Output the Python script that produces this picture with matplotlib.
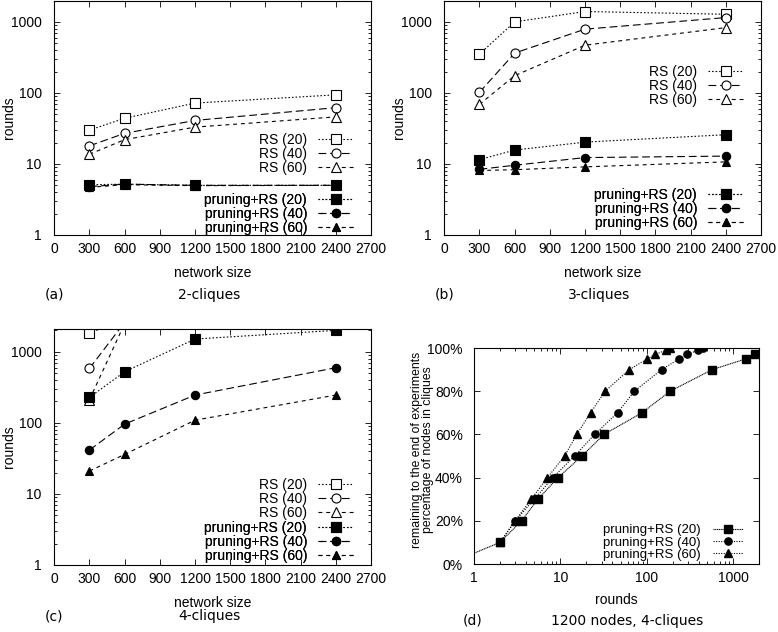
import matplotlib
matplotlib.use("Agg")
import matplotlib.pyplot as plt
from matplotlib.ticker import FuncFormatter, NullFormatter, LogLocator

plt.rcParams["font.family"] = "Liberation Sans"
plt.rcParams["font.size"] = 10

# network sizes used in panels (a)-(c)
sizes = [300, 600, 1200, 2400]

# (a) 2-cliques
a_rs20 = [30, 44, 72, 94]
a_rs40 = [18, 27, 41, 62]
a_rs60 = [13.7, 22, 33, 46]
a_pr20 = [5.1, 5.2, 5.0, 5.0]
a_pr40 = [4.8, 5.2, 5.0, 5.0]
a_pr60 = [4.7, 5.1, 4.95, 5.0]

# (b) 3-cliques
b_rs20 = [352, 1000, 1400, 1280]
b_rs40 = [102, 364, 790, 1150]
b_rs60 = [69, 175, 470, 830]
b_pr20 = [11.5, 15.7, 20.3, 25.8]
b_pr40 = [8.4, 9.6, 12.3, 12.9]
b_pr60 = [8.1, 8.3, 9.1, 10.7]

# (c) 4-cliques, RS only measured for the two smallest sizes (goes off the chart)
c_rs_sizes = [300, 600]
c_rs20 = [1860, 2700]
c_rs40 = [583, 2600]
c_rs60 = [212, 2500]
c_pr20 = [228, 524, 1510, 2000]
c_pr40 = [41.5, 96, 246, 596]
c_pr60 = [21, 36, 109, 246]

# (d) 1200 nodes, 4-cliques: rounds needed vs percentage of nodes in cliques
d_rounds20 = [1, 2, 3.55, 5.5, 9.4, 17.8, 32, 88, 187, 574, 1420, 1800]
d_pct20 = [5, 10, 20, 30, 40, 50, 60, 70, 80, 90, 95, 97]
d_rounds40 = [2, 3, 5.0, 8.2, 14.6, 25, 46, 72, 149, 238, 297, 393, 447]
d_pct40 = [10, 20, 30, 40, 50, 60, 70, 80, 90, 95, 97, 99, 100]
d_rounds60 = [2, 3, 4.6, 7.1, 11.2, 15.5, 22.4, 33, 63, 102, 125, 167, 185]
d_pct60 = [10, 20, 30, 40, 50, 60, 70, 80, 90, 95, 97, 99, 100]

line_styles = {20: (0, (1.4, 1.8)), 40: (0, (7, 3.5)), 60: (0, (3.5, 3.5))}
markers = {20: "s", 40: "o", 60: "^"}
marker_sizes = {20: 7, 40: 6.5, 60: 6.5}


def style_size_axis(ax, top):
    ax.set_yscale("log")
    ax.set_xlim(0, 2700)
    ax.set_ylim(1, top)
    ax.set_xticks(range(0, 2701, 300))
    ax.yaxis.set_major_formatter(FuncFormatter(lambda v, p: f"{v:g}"))
    ax.yaxis.set_minor_formatter(NullFormatter())
    ax.tick_params(which="both", direction="in", top=True, right=True, width=0.6)
    ax.tick_params(which="major", length=4.5)
    ax.tick_params(which="minor", length=2.5)
    ax.tick_params(axis="y", pad=9)
    ax.tick_params(axis="x", pad=5)
    ax.set_xlabel("network size", labelpad=7)
    ax.set_ylabel("rounds")
    ax.yaxis.set_label_coords(-0.1225, 0.5)
    for spine in ax.spines.values():
        spine.set_linewidth(0.8)


def add_key(ax, handles, anchor):
    leg = ax.legend(
        handles=handles,
        loc="center right",
        bbox_to_anchor=anchor,
        frameon=False,
        markerfirst=False,
        handlelength=2.5,
        handletextpad=0.8,
        labelspacing=0.0,
        borderpad=0,
        borderaxespad=0,
        fontsize=10,
    )
    ax.add_artist(leg)


def plot_panel(ax, rs_x, rs, pr, top, rs_anchor, pr_anchor):
    rs_handles = []
    pr_handles = []
    for group, vals in zip([20, 40, 60], rs):
        (h,) = ax.plot(
            rs_x, vals, color="black", lw=0.8, ls=line_styles[group],
            marker=markers[group], ms=marker_sizes[group], mfc="white",
            mec="black", mew=0.8, label=f"RS ({group})",
        )
        rs_handles.append(h)
    for group, vals in zip([20, 40, 60], pr):
        (h,) = ax.plot(
            sizes, vals, color="black", lw=0.8, ls=line_styles[group],
            marker=markers[group], ms=marker_sizes[group] - 0.5, mfc="black",
            mec="black", mew=0.8, label=f"pruning+RS ({group})",
        )
        pr_handles.append(h)
    style_size_axis(ax, top)
    add_key(ax, rs_handles, rs_anchor)
    add_key(ax, pr_handles, pr_anchor)


fig = plt.figure(figsize=(7.78, 6.32), dpi=100)
W, H = 778, 632


def px_axes(left, top, right, bottom):
    return fig.add_axes([left / W, 1 - bottom / H, (right - left) / W, (bottom - top) / H])


ax_a = px_axes(54.3, 0.5, 371, 235)
ax_b = px_axes(444.3, 0.5, 761, 235)
ax_c = px_axes(54.3, 329.3, 371, 565)
ax_d = px_axes(474, 348, 759, 564)

plot_panel(ax_a, sizes, [a_rs20, a_rs40, a_rs60], [a_pr20, a_pr40, a_pr60],
           2000, (0.943, 0.345), (0.943, 0.089))
plot_panel(ax_b, sizes, [b_rs20, b_rs40, b_rs60], [b_pr20, b_pr40, b_pr60],
           2000, (0.943, 0.636), (0.943, 0.11))
plot_panel(ax_c, c_rs_sizes, [c_rs20, c_rs40, c_rs60], [c_pr20, c_pr40, c_pr60],
           2070, (0.943, 0.28), (0.943, 0.097))

# panel (d)
d_styles = {20: (0, (1, 0.6)), 40: (0, (1, 1.3)), 60: (0, (1, 1.3))}
d_sizes = {20: 6, 40: 5.2, 60: 5.5}
d_handles = []
for group, xs, ys in [(20, d_rounds20, d_pct20), (40, d_rounds40, d_pct40),
                      (60, d_rounds60, d_pct60)]:
    (h,) = ax_d.plot(
        xs, ys, color="black", lw=0.8, ls=d_styles[group], marker=markers[group],
        ms=d_sizes[group], mfc="black", mec="black",
        markevery=slice(1, None) if group == 20 else None,
        label=f"pruning+RS ({group})",
    )
    d_handles.append(h)
ax_d.set_xscale("log")
ax_d.set_xlim(1, 2000)
ax_d.set_ylim(0, 100)
ax_d.set_yticks(range(0, 101, 20))
ax_d.yaxis.set_major_formatter(FuncFormatter(lambda v, p: f"{v:.0f}%"))
ax_d.xaxis.set_major_formatter(FuncFormatter(lambda v, p: f"{v:g}"))
ax_d.xaxis.set_minor_locator(LogLocator(subs=range(2, 10)))
ax_d.xaxis.set_minor_formatter(NullFormatter())
ax_d.tick_params(which="both", direction="in", top=True, right=True, width=0.6)
ax_d.tick_params(which="major", length=4.5)
ax_d.tick_params(which="minor", length=2.5)
ax_d.tick_params(axis="y", pad=8)
ax_d.tick_params(axis="x", pad=5)
for spine in ax_d.spines.values():
    spine.set_linewidth(0.8)
ax_d.set_xlabel("rounds", labelpad=6)
ax_d.set_ylabel("remaining to the end of experiments\npercentage of nodes in cliques",
                fontsize=8.8, linespacing=0.92)
ax_d.yaxis.set_label_coords(-0.140, 0.528)
ax_d.legend(handles=d_handles, loc="center right", bbox_to_anchor=(0.944, 0.1),
            frameon=False, markerfirst=False, handlelength=2.3, handletextpad=0.9,
            labelspacing=0.0, borderpad=0, borderaxespad=0, fontsize=9.5)

# captions
cap = dict(family="DejaVu Sans", fontsize=10, va="center")
fig.text(45 / W, 1 - 295 / H, "(a)", ha="left", **cap)
fig.text(209 / W, 1 - 295 / H, "2-cliques", ha="center", **cap)
fig.text(435 / W, 1 - 295 / H, "(b)", ha="left", **cap)
fig.text(599 / W, 1 - 295 / H, "3-cliques", ha="center", **cap)
fig.text(45 / W, 1 - 616 / H, "(c)", ha="left", **cap)
fig.text(209 / W, 1 - 616 / H, "4-cliques", ha="center", **cap)
fig.text(463 / W, 1 - 621 / H, "(d)", ha="left", **cap)
fig.text(627 / W, 1 - 621 / H, "1200 nodes, 4-cliques", ha="center", **cap)

fig.savefig("out.png", dpi=100)
